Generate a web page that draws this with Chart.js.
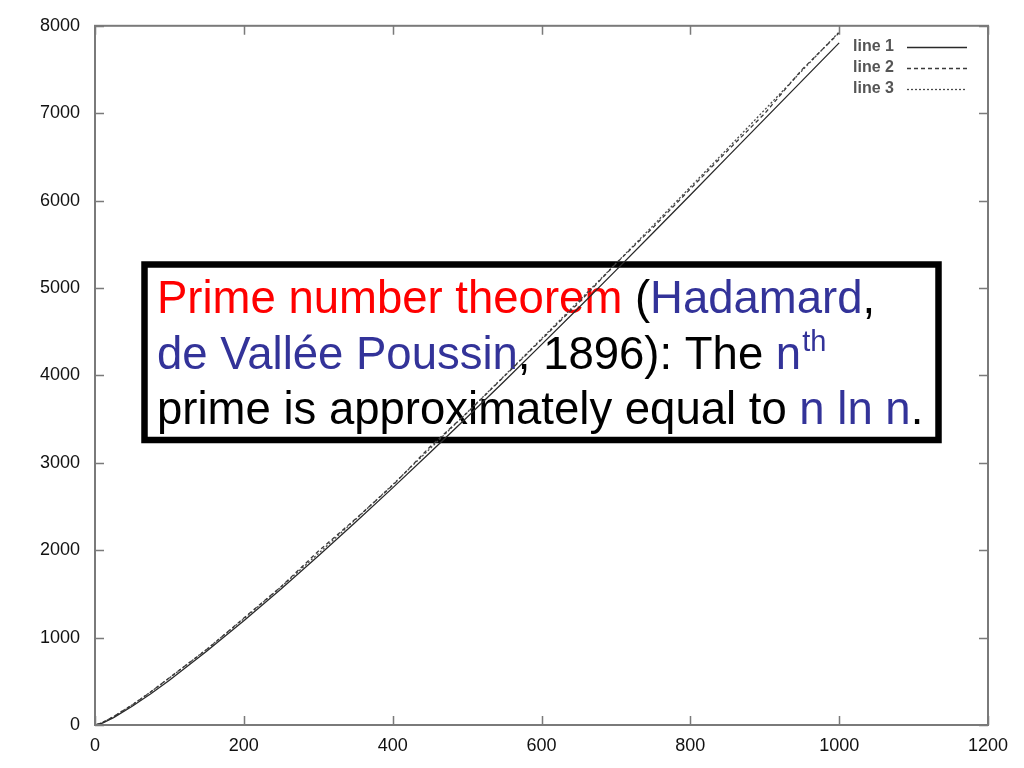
<!DOCTYPE html>
<html>
<head>
<meta charset="utf-8">
<script src="https://cdn.jsdelivr.net/npm/chart.js@4.4.1/dist/chart.umd.min.js"></script>
<style>
  html, body { margin: 0; padding: 0; background: #fff; }
  #wrap { width: 1024px; height: 768px; position: relative; }
</style>
</head>
<body>
<div id="wrap"><canvas id="c" width="1024" height="768"></canvas></div>
<script>
// ---- data ----
const nValues = [1, 10, 25, 50, 75, 100, 150, 200, 250, 300, 350, 400, 450, 500, 550, 600, 650, 700, 750, 800, 850, 900, 950, 1000];
const line1Values = [0, 21, 85, 214, 358, 513, 843, 1193, 1557, 1934, 2319, 2713, 3114, 3521, 3934, 4352, 4774, 5202, 5633, 6065, 6500, 6935, 7370, 7805];
const line2Values = [2, 29, 97, 229, 379, 541, 863, 1223, 1583, 1987, 2357, 2741, 3181, 3571, 3989, 4409, 4831, 5279, 5693, 6133, 6571, 6997, 7499, 7919];
const line3Values = [2, 27, 95, 232, 380, 538, 866, 1215, 1580, 1960, 2350, 2750, 3160, 3575, 3995, 4420, 4850, 5280, 5715, 6155, 6595, 7040, 7485, 7930];
const seriesLabels = ['line 1', 'line 2', 'line 3'];
const xTicks = [0, 200, 400, 600, 800, 1000, 1200];
const yTicks = [0, 1000, 2000, 3000, 4000, 5000, 6000, 7000, 8000];

const toPoints = (ys) => nValues.map((n, i) => ({ x: n, y: ys[i] }));

const lineStyles = [
  { color: '#2a2a2a', dash: [] },
  { color: '#3a3a3a', dash: [4, 3] },
  { color: '#4a4a4a', dash: [2, 2] }
];

// text box content
const noteLines = [
  [ {t: 'Prime number theorem', c: '#ff0000'}, {t: ' (', c: '#000'}, {t: 'Hadamard', c: '#333399'}, {t: ',', c: '#000'} ],
  [ {t: 'de Vallée Poussin', c: '#333399'}, {t: ', 1896): The ', c: '#000'}, {t: 'n', c: '#333399'}, {t: 'th', c: '#333399', sup: true} ],
  [ {t: 'prime is approximately equal to ', c: '#000'}, {t: 'n ln n', c: '#333399'}, {t: '.', c: '#000'} ]
];

const frameColor = '#7a7a7a';
const FONT = '"Liberation Sans", Arial, Helvetica, sans-serif';

const framePlugin = {
  id: 'frame',
  beforeDatasetsDraw(chart) {
    const ctx = chart.ctx;
    ctx.save();
    ctx.strokeStyle = '#000';
    ctx.lineWidth = 6.5;
    ctx.strokeRect(144.5, 264.5, 794, 175.5);
    const baseX = 157;
    const baselines = [313, 368.5, 424];
    noteLines.forEach((segs, li) => {
      let x = baseX;
      segs.forEach(s => {
        ctx.fillStyle = s.c;
        ctx.textBaseline = 'alphabetic';
        if (s.sup) {
          ctx.font = '29px ' + FONT;
          ctx.fillText(s.t, x + 1, baselines[li] - 18);
          x += ctx.measureText(s.t).width + 1;
        } else {
          ctx.font = '45.5px ' + FONT;
          ctx.fillText(s.t, x, baselines[li]);
          x += ctx.measureText(s.t).width;
        }
      });
    });
    ctx.restore();
  },
  afterDatasetsDraw(chart) {
    const ctx = chart.ctx;
    const a = chart.chartArea;
    const xs = chart.scales.x, ys = chart.scales.y;
    ctx.save();
    ctx.strokeStyle = frameColor;
    ctx.lineWidth = 2;
    ctx.strokeRect(a.left, a.top, a.right - a.left, a.bottom - a.top);
    ctx.lineWidth = 1.5;
    const tl = 9;
    ctx.beginPath();
    xTicks.forEach(v => {
      const px = Math.round(xs.getPixelForValue(v)) + 0.5;
      ctx.moveTo(px, a.bottom); ctx.lineTo(px, a.bottom - tl);
      ctx.moveTo(px, a.top); ctx.lineTo(px, a.top + tl);
    });
    yTicks.forEach(v => {
      const py = Math.round(ys.getPixelForValue(v)) + 0.5;
      ctx.moveTo(a.left, py); ctx.lineTo(a.left + tl, py);
      ctx.moveTo(a.right, py); ctx.lineTo(a.right - tl, py);
    });
    ctx.stroke();

    // key inside top-right
    const ds = chart.data.datasets;
    const keyY = [47, 68, 89];
    ctx.font = 'bold 16px ' + FONT;
    ctx.textAlign = 'right';
    ctx.textBaseline = 'middle';
    ds.forEach((d, i) => {
      ctx.fillStyle = '#555';
      ctx.fillText(d.label, 894, keyY[i]);
      ctx.strokeStyle = d.borderColor;
      ctx.lineWidth = 1.3;
      ctx.setLineDash(d.borderDash || []);
      ctx.beginPath();
      ctx.moveTo(907, keyY[i] + 0.5);
      ctx.lineTo(967, keyY[i] + 0.5);
      ctx.stroke();
      ctx.setLineDash([]);
    });
    ctx.restore();
  }
};

const datasets = [line1Values, line2Values, line3Values].map((vals, i) => ({
  label: seriesLabels[i],
  data: toPoints(vals),
  borderColor: lineStyles[i].color,
  borderDash: lineStyles[i].dash,
  borderWidth: 1.3,
  pointRadius: 0,
  tension: 0,
  fill: false
}));

new Chart(document.getElementById('c'), {
  type: 'line',
  data: { datasets },
  options: {
    responsive: false,
    animation: false,
    layout: { padding: { left: 0, right: 36, top: 25, bottom: 0 } },
    plugins: { legend: { display: false }, tooltip: { enabled: false } },
    scales: {
      x: {
        type: 'linear', min: 0, max: 1200,
        afterBuildTicks: (s) => { s.ticks = xTicks.map(v => ({ value: v })); },
        afterFit: (s) => { s.height = 43; },
        grid: { display: false, drawTicks: false },
        border: { display: false },
        ticks: { padding: 10, color: '#111', font: { family: FONT, size: 18 }, maxRotation: 0,
                 callback: (v) => String(v) }
      },
      y: {
        type: 'linear', min: 0, max: 8000,
        afterBuildTicks: (s) => { s.ticks = yTicks.map(v => ({ value: v })); },
        afterFit: (s) => { s.width = 95; },
        grid: { display: false, drawTicks: false },
        border: { display: false },
        ticks: { padding: 15, color: '#111', font: { family: FONT, size: 18 },
                 callback: (v) => String(v) }
      }
    }
  },
  plugins: [framePlugin]
});
</script>
</body>
</html>
